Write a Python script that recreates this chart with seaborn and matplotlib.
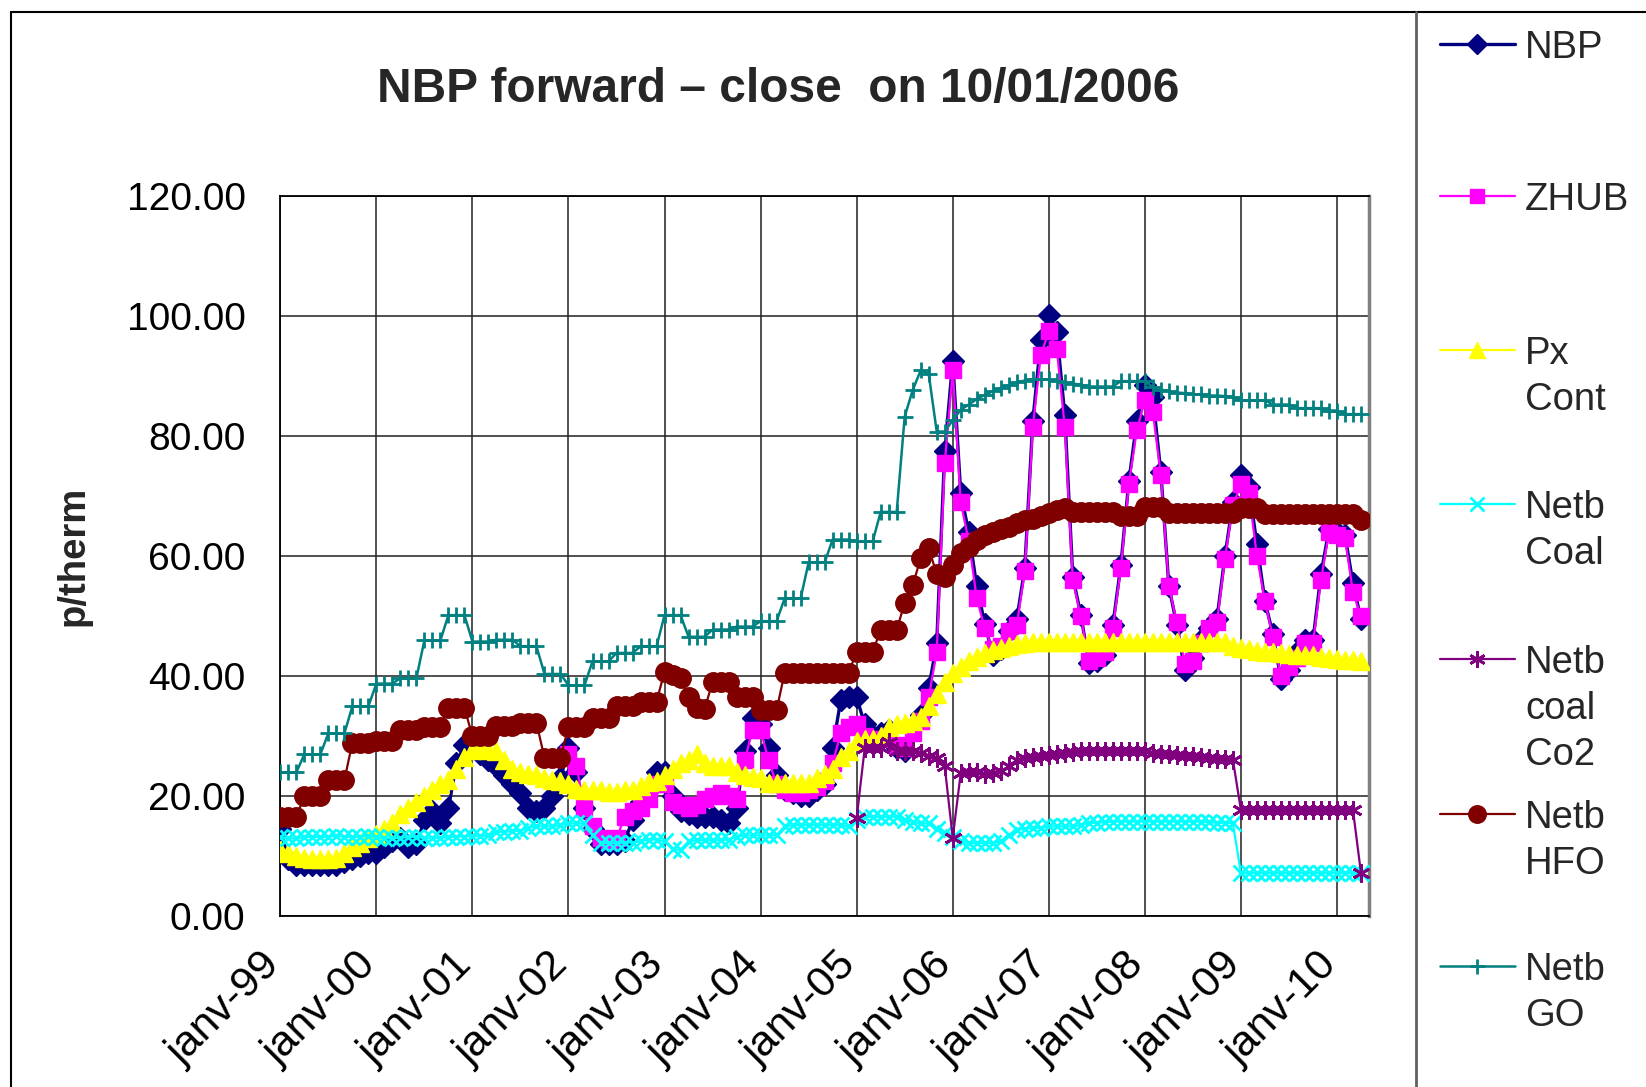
import numpy as np
import pandas as pd
import matplotlib
matplotlib.use("Agg")
import matplotlib.pyplot as plt
import seaborn as sns
from matplotlib.lines import Line2D
from matplotlib.transforms import ScaledTranslation

# ---------------- data (monthly, janv-99 = month 0) ----------------
year_labels = ["janv-99", "janv-00", "janv-01", "janv-02", "janv-03", "janv-04",
               "janv-05", "janv-06", "janv-07", "janv-08", "janv-09", "janv-10"]
n_months = 136
zhub_start = 36
co2_start = 72

nbp = [14.5, 9.5, 8.5, 8.5, 8.5, 8.5, 8.5, 8.5, 9.0, 9.5, 10.0, 10.5,
       10.5, 11.5, 12.5, 13.0, 11.5, 12.0, 16.0, 17.5, 15.5, 18.0, 25.5, 28.5,
       29.0, 27.0, 26.0, 25.0, 23.5, 22.0, 20.5, 18.0, 17.5, 18.0, 20.0, 23.0,
       28.0, 24.0, 18.0, 14.5, 12.0, 12.0, 12.0, 12.5, 16.0, 19.0, 21.0, 24.0,
       24.0, 20.0, 17.5, 17.0, 16.5, 16.5, 16.5, 16.0, 15.5, 18.0, 27.5, 33.0,
       32.0, 28.0, 23.5, 21.0, 20.5, 20.0, 20.0, 21.0, 22.0, 28.0, 36.0, 36.5,
       36.5, 32.0, 30.0, 30.5, 31.0, 28.0, 27.5, 31.5, 33.5, 38.0, 45.5, 77.5,
       92.5, 70.5, 64.0, 55.0, 48.8, 43.5, 44.5, 47.5, 49.5, 58.0, 82.5, 96.0,
       100.3, 97.4, 83.5, 56.5, 50.3, 42.2, 42.5, 43.5, 48.5, 58.5, 72.5, 82.5,
       88.5, 86.5, 74.0, 55.0, 48.5, 41.0, 43.0, 46.0, 48.0, 49.5, 60.0, 69.0,
       73.5, 71.5, 62.0, 52.5, 47.0, 39.5, 41.0, 44.0, 46.0, 46.0, 57.0, 64.5,
       64.0, 63.5, 55.5, 49.5]

zhub = [27.0, 25.0, 18.0, 15.0, 13.0, 12.5, 13.0, 16.5, 17.5, 18.0, 19.5, 22.0,
        22.0, 19.0, 18.5, 18.0, 18.5, 19.5, 20.0, 20.5, 20.0, 19.5, 26.0, 31.0,
        31.0, 26.0, 22.0, 21.0, 20.5, 20.5, 21.0, 21.5, 22.5, 25.5, 30.5, 31.5,
        32.0, 30.0, 29.0, 29.5, 30.0, 28.5, 28.0, 30.5, 32.5, 36.5, 44.0, 75.5,
        91.0, 69.0, 62.5, 53.0, 48.0, 44.5, 45.0, 47.5, 48.5, 57.5, 81.5, 93.5,
        97.5, 94.5, 81.5, 56.0, 50.0, 42.5, 43.0, 44.0, 48.0, 58.0, 72.0, 81.0,
        86.0, 84.0, 73.5, 55.0, 49.0, 42.0, 42.5, 45.5, 48.0, 49.0, 59.5, 68.5,
        72.0, 70.5, 60.0, 52.5, 46.5, 40.0, 41.5, 43.0, 45.5, 45.5, 56.0, 64.0,
        63.5, 63.0, 54.0, 50.0]

px_cont = [11.0, 10.5, 10.0, 9.8, 9.6, 9.5, 9.5, 9.8, 10.5, 11.5, 12.3, 13.0,
           13.8, 14.5, 15.5, 17.0, 18.0, 19.0, 20.0, 21.0, 22.0, 22.7, 24.5, 26.5,
           27.8, 28.0, 27.7, 27.5, 26.0, 24.5, 24.0, 23.8, 23.5, 23.0, 22.7, 22.5,
           22.0, 21.2, 21.0, 21.0, 21.0, 20.8, 20.8, 21.0, 21.0, 21.8, 22.4, 22.6,
           23.5, 24.5, 25.5, 26.0, 27.0, 25.5, 25.0, 25.0, 25.0, 24.0, 23.5, 23.3,
           23.0, 22.3, 22.2, 22.2, 22.2, 22.2, 22.2, 23.0, 23.8, 24.5, 26.5, 27.5,
           29.3, 29.5, 29.5, 30.0, 31.6, 32.0, 32.3, 32.6, 33.3, 35.0, 37.0, 39.0,
           40.5, 41.6, 42.5, 43.3, 43.9, 44.4, 44.8, 45.1, 45.4, 45.6, 45.7, 45.7,
           45.7, 45.7, 45.7, 45.7, 45.7, 45.7, 45.7, 45.7, 45.7, 45.7, 45.7, 45.7,
           45.7, 45.7, 45.7, 45.7, 45.7, 45.7, 45.7, 45.7, 45.7, 45.7, 45.7, 45.0,
           44.7, 44.5, 44.2, 44.0, 44.0, 43.9, 43.8, 43.6, 43.6, 43.5, 43.3, 43.0,
           42.9, 42.8, 42.7, 42.6]

netb_coal = [13.2, 13.0, 13.0, 13.2, 13.3, 13.2, 13.3, 13.4, 13.3, 13.2, 13.3, 13.4,
             13.2, 13.0, 13.0, 13.1, 13.2, 13.3, 13.0, 13.0, 13.1, 13.2, 13.3, 13.3,
             13.4, 13.4, 13.5, 14.0, 14.1, 14.2, 14.3, 14.8, 15.0, 15.0, 15.0, 15.2,
             15.5, 15.5, 15.5, 13.5, 12.3, 12.2, 12.2, 12.3, 12.3, 12.5, 12.8, 12.8,
             12.5, 11.2, 11.1, 12.5, 12.7, 12.7, 12.7, 12.7, 12.8, 13.3, 13.5, 13.5,
             13.5, 13.5, 13.5, 15.0, 15.2, 15.2, 15.2, 15.2, 15.2, 15.2, 15.2, 15.0,
             16.0, 16.6, 16.6, 16.6, 16.6, 16.6, 16.0, 15.8, 15.5, 15.5, 14.5, 13.9,
             13.2, 12.5, 12.2, 12.2, 12.2, 12.2, 12.5, 13.5, 14.4, 14.6, 14.7, 14.8,
             15.0, 15.0, 15.0, 15.0, 15.2, 15.6, 15.6, 15.7, 15.8, 15.8, 15.8, 15.8,
             15.8, 15.8, 15.8, 15.8, 15.8, 15.8, 15.8, 15.8, 15.7, 15.6, 15.6, 15.5,
             7.2, 7.2, 7.2, 7.2, 7.2, 7.2, 7.2, 7.2, 7.2, 7.2, 7.2, 7.2,
             7.2, 7.2, 7.2, 7.2]

netb_coal_co2 = [16.4, 28.0, 28.0, 28.0, 29.0, 27.5, 27.5, 27.5, 27.2, 26.8, 26.4, 25.0,
                 13.1, 23.9, 24.0, 24.0, 23.8, 23.9, 24.2, 25.0, 26.0, 26.4, 26.6, 26.8,
                 26.9, 27.0, 27.2, 27.4, 27.5, 27.5, 27.5, 27.6, 27.6, 27.6, 27.6, 27.5,
                 27.5, 27.2, 27.0, 27.0, 26.9, 26.8, 26.7, 26.6, 26.4, 26.3, 26.2, 26.1,
                 17.7, 17.7, 17.7, 17.7, 17.7, 17.7, 17.7, 17.7, 17.7, 17.7, 17.7, 17.7,
                 17.7, 17.7, 17.7, 7.2]

netb_hfo = [16.6, 16.6, 16.6, 20.0, 20.0, 20.0, 22.7, 22.7, 22.7, 28.9, 28.9, 28.9,
            29.3, 29.3, 29.3, 31.0, 31.0, 31.0, 31.6, 31.6, 31.6, 34.8, 34.8, 34.8,
            30.0, 30.0, 30.0, 31.8, 31.8, 31.8, 32.3, 32.3, 32.3, 26.4, 26.4, 26.4,
            31.6, 31.6, 31.6, 33.0, 33.0, 33.0, 35.0, 35.0, 35.0, 35.8, 35.8, 35.8,
            40.8, 40.3, 39.7, 36.6, 34.7, 34.5, 39.1, 39.1, 39.1, 36.6, 36.6, 36.6,
            34.4, 34.4, 34.4, 40.6, 40.6, 40.6, 40.6, 40.6, 40.6, 40.6, 40.6, 40.6,
            44.1, 44.1, 44.1, 47.7, 47.7, 47.7, 52.3, 55.2, 59.7, 61.4, 57.0, 56.5,
            58.5, 60.5, 61.5, 62.8, 63.5, 64.1, 64.5, 64.9, 65.5, 66.0, 66.3, 66.8,
            67.3, 67.8, 68.0, 67.4, 67.4, 67.4, 67.4, 67.4, 67.4, 66.8, 66.8, 66.8,
            68.2, 68.2, 68.2, 67.3, 67.3, 67.3, 67.3, 67.3, 67.3, 67.3, 67.3, 67.3,
            68.0, 68.0, 68.0, 67.0, 67.0, 67.0, 67.0, 67.0, 67.0, 67.0, 67.0, 67.0,
            67.0, 67.0, 67.0, 66.0]

netb_go = [24.0, 24.0, 24.0, 27.0, 27.0, 27.0, 30.5, 30.5, 30.5, 35.0, 35.0, 35.0,
           38.8, 38.8, 38.8, 39.7, 39.7, 39.7, 46.0, 46.0, 46.0, 50.2, 50.2, 50.2,
           45.8, 45.8, 45.8, 46.1, 46.1, 46.1, 45.0, 45.0, 45.0, 40.4, 40.4, 40.4,
           38.5, 38.5, 38.5, 42.5, 42.5, 42.5, 43.9, 43.9, 43.9, 45.0, 45.0, 45.0,
           50.2, 50.2, 50.2, 46.6, 46.6, 46.6, 47.8, 47.8, 47.8, 48.3, 48.3, 48.3,
           49.2, 49.2, 49.2, 53.0, 53.0, 53.0, 59.0, 59.0, 59.0, 62.8, 62.8, 62.8,
           62.5, 62.5, 62.5, 67.4, 67.4, 67.4, 83.3, 87.7, 91.0, 90.4, 80.8, 80.8,
           82.7, 84.4, 85.3, 86.2, 86.9, 87.5, 88.0, 88.5, 89.0, 89.3, 89.5, 89.5,
           89.5, 89.2, 89.0, 88.8, 88.6, 88.3, 88.3, 88.3, 88.3, 89.2, 89.2, 89.2,
           89.2, 88.2, 87.8, 87.5, 87.3, 87.2, 87.0, 87.0, 86.8, 86.8, 86.7, 86.6,
           86.0, 86.0, 86.0, 86.0, 85.3, 85.3, 85.3, 84.7, 84.7, 84.7, 84.7, 84.3,
           84.3, 83.7, 83.7, 83.7]

# ---------------- build long table ----------------
months = np.arange(n_months)
frames = [
    pd.DataFrame({"month": months, "value": nbp, "series": "NBP"}),
    pd.DataFrame({"month": months[zhub_start:], "value": zhub, "series": "ZHUB"}),
    pd.DataFrame({"month": months, "value": px_cont, "series": "Px\nCont"}),
    pd.DataFrame({"month": months, "value": netb_coal, "series": "Netb\nCoal"}),
    pd.DataFrame({"month": months[co2_start:], "value": netb_coal_co2, "series": "Netb\ncoal\nCo2"}),
    pd.DataFrame({"month": months, "value": netb_hfo, "series": "Netb\nHFO"}),
    pd.DataFrame({"month": months, "value": netb_go, "series": "Netb\nGO"}),
]
df = pd.concat(frames, ignore_index=True)

styles = {
    "NBP":            dict(color="#000080", marker="D", ms=11.5, lw=2.4, mec="#000080", mew=1),
    "ZHUB":           dict(color="#FF00FF", marker="s", ms=11.5, lw=1.6, mec="#FF00FF", mew=1),
    "Px\nCont":       dict(color="#FFFF00", marker="^", ms=12.5, lw=1.6, mec="#FFFF00", mew=1),
    "Netb\nCoal":     dict(color="#00FFFF", marker="x", ms=11, lw=1.6, mec="#00FFFF", mew=2),
    "Netb\ncoal\nCo2": dict(color="#800080", marker=(6, 2, 0), ms=13, lw=1.6, mec="#800080", mew=2),
    "Netb\nHFO":      dict(color="#800000", marker="o", ms=14, lw=1.6, mec="#800000", mew=1),
    "Netb\nGO":       dict(color="#008080", marker="+", ms=12, lw=1.8, mec="#008080", mew=2),
}

# ---------------- figure ----------------
sns.set_style("white")
plt.rcParams["font.family"] = ["Liberation Sans", "DejaVu Sans"]

W, H = 1646, 1087
fig = plt.figure(figsize=(W / 100, H / 100), dpi=100)
ax = fig.add_axes([280.3 / W, 1 - 916.4 / H, (1369 - 280.3) / W, (916.4 - 196.3) / H])

for name, st in styles.items():
    sub = df[df["series"] == name]
    sns.lineplot(data=sub, x="month", y="value", ax=ax, estimator=None, sort=False,
                 color=st["color"], marker=st["marker"], markersize=st["ms"],
                 linewidth=st["lw"], markeredgecolor=st["mec"],
                 markeredgewidth=st["mew"], legend=False, zorder=3)

ax.set_xlim(0, n_months)
ax.set_ylim(0, 120)
ax.set_xticks(np.arange(0, n_months, 12))
ax.set_yticks(np.arange(0, 121, 20))
ax.tick_params(axis="y", direction="out", length=9, width=1.2, pad=16, colors="black")
ax.tick_params(axis="x", direction="out", length=7, width=1.2, pad=8, colors="black")
ax.set_xticklabels(year_labels, rotation=45, ha="right", rotation_mode="anchor",
                   fontsize=31)
ax.set_yticklabels([f"{v:.2f}" for v in np.arange(0, 121, 20)], fontsize=28)
shift = ScaledTranslation(-21 / 100, -8 / 100, fig.dpi_scale_trans)
for tick in ax.xaxis.get_major_ticks():
    tick.label1.set_transform(tick.label1.get_transform() + shift)
ax.grid(True, color="#202020", linewidth=1.1)
ax.set_axisbelow(True)
ax.set_xlabel("")
ax.set_ylabel("")
for side in ["left", "bottom", "top"]:
    ax.spines[side].set_color("black")
    ax.spines[side].set_linewidth(1.3)
ax.spines["right"].set_color("#808080")
ax.spines["right"].set_linewidth(2.5)

# title and axis label
fig.text(778 / W, 1 - 102 / H, "NBP forward \u2013 close  on 10/01/2006",
         ha="center", va="baseline", fontsize=34.5, fontweight="bold")
fig.text(73.5 / W, 1 - 556 / H, "p/therm", rotation=90, ha="center", va="center",
         fontsize=27.5, fontweight="bold")

# chart borders
fig.add_artist(Line2D([10.5 / W, 1.0], [1 - 11.7 / H, 1 - 11.7 / H],
                      transform=fig.transFigure, color="black", lw=1.5))
fig.add_artist(Line2D([10.5 / W, 10.5 / W], [0, 1 - 11.7 / H],
                      transform=fig.transFigure, color="black", lw=1.5))
fig.add_artist(Line2D([1416 / W, 1416 / W], [0, 1 - 11.7 / H],
                      transform=fig.transFigure, color="#606060", lw=2))

# legend (drawn in the right-hand panel)
leg_y = [44, 196, 350, 504, 659, 814, 966]
fs_leg = 27.5
cap = 0.716 * fs_leg * 100 / 72
pitch = 46
for (name, st), y in zip(styles.items(), leg_y):
    fig.add_artist(Line2D([1440 / W, 1515 / W], [1 - y / H, 1 - y / H],
                          transform=fig.transFigure, color=st["color"],
                          lw=st["lw"]))
    fig.add_artist(Line2D([1477 / W], [1 - y / H], transform=fig.transFigure,
                          color=st["color"], marker=st["marker"], ms=st["ms"] * 0.9,
                          mec=st["mec"], mew=st["mew"], lw=0))
    for k, line in enumerate(name.split("\n")):
        fig.text(1525 / W, 1 - (y + cap / 2 + k * pitch) / H, line,
                 ha="left", va="baseline", fontsize=fs_leg)

fig.savefig("out.png", dpi=100)
